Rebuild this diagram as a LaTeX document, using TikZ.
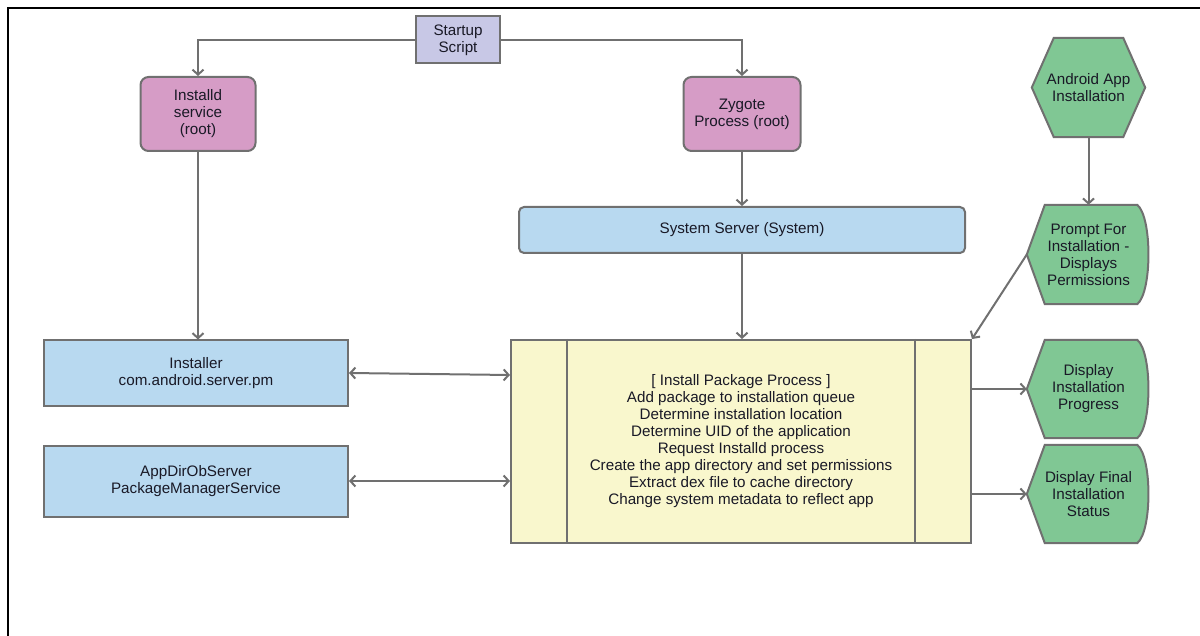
\documentclass[tikz,border=0pt]{standalone}
\usepackage{fontspec}
\setmainfont{Liberation Sans}
\usetikzlibrary{arrows.meta,backgrounds}

\definecolor{linegray}{RGB}{112,112,112}
\definecolor{textdark}{RGB}{25,25,38}
\definecolor{scriptfill}{RGB}{200,200,230}
\definecolor{rootfill}{RGB}{214,156,198}
\definecolor{sysfill}{RGB}{184,217,240}
\definecolor{procfill}{RGB}{249,247,205}
\definecolor{appgreen}{RGB}{128,199,148}

% outlines for the green shapes, drawn behind the named nodes
\newcommand{\hexoutline}[1]{%
  \draw[greenline] (#1.west) -- ([xshift=22pt]#1.north west) -- ([xshift=-22pt]#1.north east)
    -- (#1.east) -- ([xshift=-22pt]#1.south east) -- ([xshift=22pt]#1.south west) -- cycle;}
\newcommand{\dispoutline}[1]{%
  \draw[greenline] (#1.west) -- ([xshift=18pt]#1.north west) -- ([xshift=-13pt]#1.north east)
    .. controls ([xshift=2pt,yshift=-12pt]#1.north east) and ([xshift=2pt,yshift=12pt]#1.south east)
    .. ([xshift=-13pt]#1.south east) -- ([xshift=18pt]#1.south west) -- cycle;}

\begin{document}
\begin{tikzpicture}[x=1pt, y=-1pt, >={Straight Barb[length=5pt,width=11pt]},
    every node/.style={font=\fontsize{15.2}{17}\selectfont, align=center, text=textdark, inner sep=0pt},
    box/.style={draw=linegray, line width=2pt},
    rootbox/.style={box, fill=rootfill, rounded corners=8pt},
    greenline/.style={draw=linegray, line width=2pt, fill=appgreen},
    greenbox/.style={minimum width=123pt, minimum height=98pt},
    conn/.style={draw=linegray, line width=2pt}]

    \useasboundingbox (0,0) rectangle (1200,636);
    \draw[line width=1.3pt] (8,636) -- (8,8) -- (1200,8);

    % Nodes
    \node [box, fill=scriptfill, minimum width=84pt, minimum height=47pt]  (startup)   at (458,40)   {Startup\\Script};
    \node [rootbox, minimum width=115pt, minimum height=74pt]             (installd)  at (198,114)  {Installd\\service\\(root)};
    \node [rootbox, minimum width=117pt, minimum height=74pt]             (zygote)    at (742,114)  {Zygote\\Process (root)};
    \node [box, fill=sysfill, rounded corners=5pt, minimum width=446pt, minimum height=46pt] (sysserver) at (742,230) {System Server (System)};
    \node [box, fill=sysfill, minimum width=304pt, minimum height=65pt]   (installer) at (196,373)  {Installer\\com.android.server.pm};
    \node [box, fill=sysfill, minimum width=304pt, minimum height=71pt]   (appdir)    at (196,481)  {AppDirObServer\\PackageManagerService};
    \node [box, fill=procfill, minimum width=460pt, minimum height=203pt] (pkg)       at (741,441.5)
        {[ Install Package Process ]\\Add package to installation queue\\Determine installation location\\Determine UID of the application\\Request Installd process\\Create the app directory and set permissions\\Extract dex file to cache directory\\Change system metadata to reflect app};
    \draw[conn, line width=1.6pt] ([xshift=57pt]pkg.north west) -- ([xshift=57pt]pkg.south west);
    \draw[conn, line width=1.6pt] ([xshift=-57pt]pkg.north east) -- ([xshift=-57pt]pkg.south east);

    \node [minimum width=113pt, minimum height=99pt] (appinst)  at (1088.5,87.5) {Android App\\Installation};
    \node [greenbox, minimum height=99pt]          (prompt)   at (1088.5,254.5) {Prompt For\\Installation -\\Displays\\Permissions};
    \node [greenbox]                               (progress) at (1088.5,389)   {Display\\Installation\\Progress};
    \node [greenbox]                               (final)    at (1088.5,494)   {Display Final\\Installation\\Status};

    \begin{scope}[on background layer]
        \hexoutline{appinst}
        \dispoutline{prompt}
        \dispoutline{progress}
        \dispoutline{final}
    \end{scope}

    % Paths
    \draw [conn, ->] (startup.west) -| (installd.north);
    \draw [conn, ->] (startup.east) -| (zygote.north);
    \draw [conn, ->] (installd.south) -- (installd.south |- installer.north);
    \draw [conn, ->] (zygote.south)   -- (zygote.south |- sysserver.north);
    \draw [conn, ->] (sysserver.south) -- (sysserver.south |- pkg.north);
    \draw [conn, <->] (installer.east) -- ([yshift=-2pt]installer.east -| pkg.west);
    \draw [conn, <->] (appdir.east)    -- (appdir.east -| pkg.west);
    \draw [conn, ->] (appinst.south) -- (prompt.north);
    \draw [conn, ->] (prompt.west)   -- (pkg.north east);
    \draw [conn, ->] (pkg.east |- progress.west) -- (progress.west);
    \draw [conn, ->] (pkg.east |- final.west)    -- (final.west);

\end{tikzpicture}
\end{document}
